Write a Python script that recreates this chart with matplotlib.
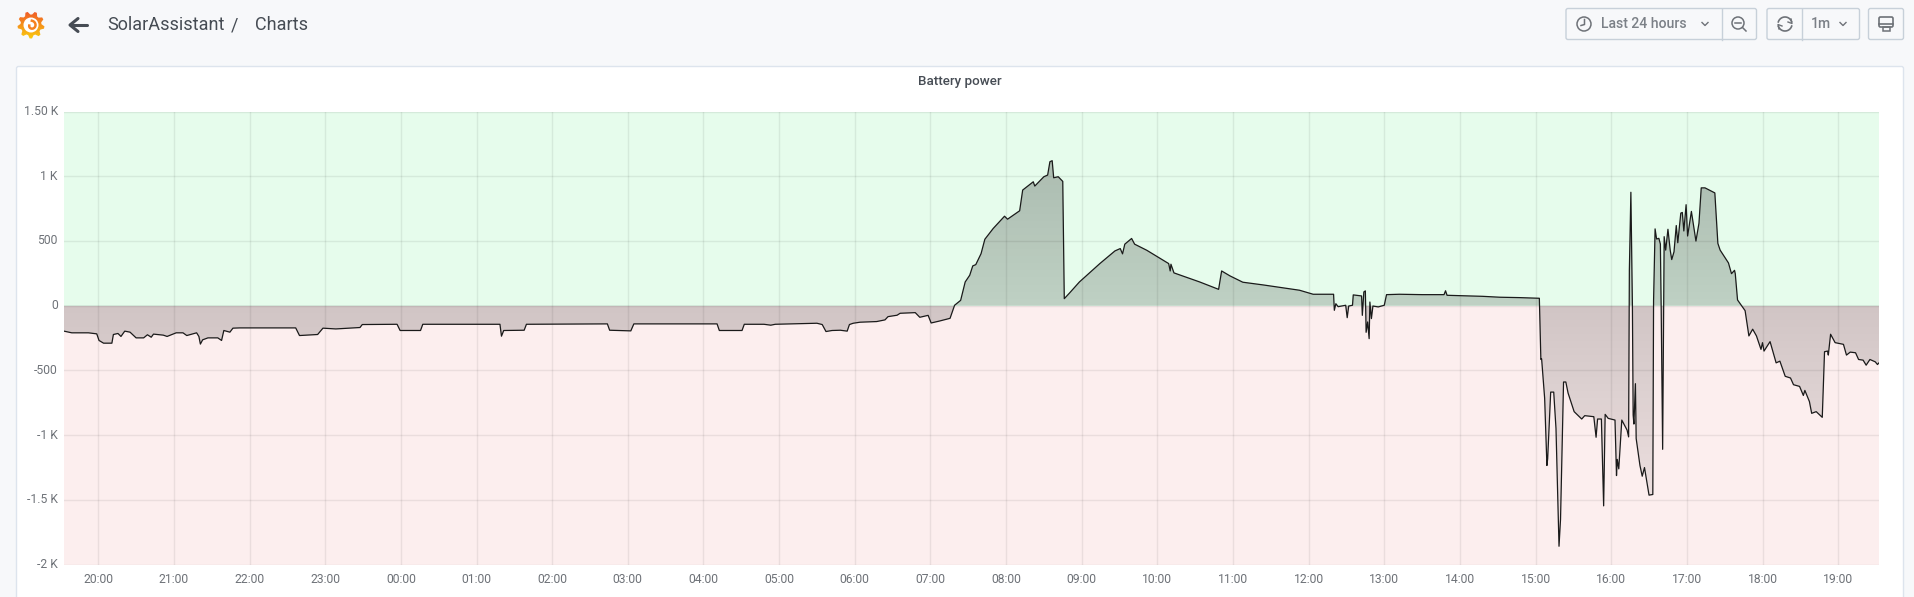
"""Battery power panel from a Grafana dashboard, redrawn with matplotlib."""

import numpy as np
import matplotlib
matplotlib.use("Agg")
import matplotlib.pyplot as plt
from matplotlib.patches import Circle, FancyBboxPatch, Polygon, Rectangle
from matplotlib.transforms import ScaledTranslation

plt.rcParams["font.family"] = ["Roboto", "DejaVu Sans"]

W, H = 1914, 597

# hours after 20:00
hours = [
    -0.453, -0.35, -0.13, -0.02, 0.01, 0.07, 0.18, 0.2, 0.26, 0.30, 0.35, 0.42, 0.5, 0.6, 0.65, 0.70,
    0.73, 0.86, 0.91, 1.03, 1.12, 1.17, 1.30, 1.33, 1.35, 1.38, 1.45, 1.58, 1.63, 1.66, 1.74, 1.78,
    1.87, 2.61, 2.66, 2.9, 2.97, 3.14, 3.46, 3.49, 3.95, 3.99, 4.26, 4.29, 5.04, 5.31, 5.33, 5.36,
    5.63, 5.66, 6.73, 6.76, 7.04, 7.08, 8.18, 8.21, 8.51, 8.54, 8.80, 8.89, 8.95, 9.5, 9.57, 9.62,
    9.70, 9.81, 9.90, 9.93, 9.98, 10.07, 10.29, 10.40, 10.44, 10.56, 10.6, 10.80,
    10.86, 10.97, 11.01, 11.12, 11.26, 11.32, 11.40, 11.46, 11.52, 11.56, 11.60, 11.67, 11.72, 11.83,
    11.98, 12.02, 12.18, 12.22, 12.36, 12.38, 12.50, 12.55, 12.58, 12.61, 12.63, 12.69, 12.75, 12.77,
    12.84, 12.97, 13.24, 13.44, 13.51, 13.54, 13.57, 13.66, 13.70, 13.86, 14.15, 14.17, 14.18, 14.22,
    14.56, 14.81, 14.85, 14.96, 15.13, 15.40, 15.88, 16.06, 16.33, 16.34, 16.36, 16.39, 16.49, 16.51,
    16.53, 16.58, 16.59, 16.70, 16.71, 16.73, 16.75, 16.76, 16.78, 16.80, 16.81, 16.83, 16.85, 16.92,
    17.0, 17.03, 17.2, 17.5, 17.79, 17.81, 17.83, 18.3, 18.53, 18.79,
    19.05, 19.07, 19.08, 19.12, 19.15, 19.16, 19.20, 19.24, 19.27, 19.31, 19.33, 19.37, 19.40, 19.43,
    19.51, 19.61, 19.65, 19.77, 19.80, 19.82, 19.87, 19.90, 19.92, 19.96, 20.05, 20.07, 20.08, 20.10,
    20.14, 20.21, 20.23, 20.24, 20.26, 20.28, 20.29, 20.30, 20.32, 20.33, 20.38, 20.41, 20.44, 20.50,
    20.55, 20.56, 20.58, 20.60, 20.63, 20.65, 20.66, 20.68, 20.70, 20.72, 20.75, 20.78, 20.80, 20.83,
    20.86, 20.88, 20.92, 20.94, 20.96, 20.99, 21.01, 21.06, 21.12, 21.16, 21.19, 21.24, 21.37, 21.41,
    21.44, 21.55, 21.59, 21.63, 21.64, 21.67, 21.77, 21.82, 21.87, 21.92, 21.98, 22.0, 22.02, 22.10,
    22.18, 22.23, 22.30, 22.37, 22.41, 22.49, 22.54, 22.56, 22.62, 22.65, 22.71, 22.79, 22.82, 22.86,
    22.87, 22.90, 22.96, 23.07, 23.11, 23.16, 23.23, 23.27, 23.33, 23.37, 23.42, 23.49, 23.52, 23.54,
]
power = [
    -197, -210, -210, -218, -269, -290, -290, -223, -215, -238, -197, -205, -249, -249, -225, -244,
    -220, -228, -238, -210, -210, -231, -210, -238, -297, -264, -249, -249, -269, -192, -205, -174,
    -172, -172, -231, -223, -174, -180, -169, -146, -144, -192, -192, -144, -144, -144, -236, -192,
    -190, -144, -141, -190, -195, -141, -141, -192, -192, -144, -144, -151, -144, -136, -146, -200,
    -192, -190, -197, -146, -136, -128, -123, -110, -85, -74, -59, -54,
    -90, -75, -134, -119, -98, 3, 41, 183, 235, 307, 317, 402, 513, 596,
    691, 668, 733, 893, 957, 924, 996, 1009, 1112, 1120, 988, 996, 960, 54,
    98, 183, 325, 423, 441, 400, 475, 519, 475, 428, 325, 268, 320, 253,
    183, 126, 268, 230, 181, 160, 119, 88, 88, -36, 15, -8, 3, -93,
    -3, 3, 83, 75, -75, 106, 114, -206, -126, -255, 28, -100, -3, -10,
    3, 85, 88, 85, 85, 115, 80, 72, 65, 62,
    57, -416, -411, -715, -1235, -1183, -668, -668, -949, -1859, -1651, -590, -590, -676,
    -819, -876, -850, -858, -1017, -876, -876, -1547, -840, -871, -884, -1313, -1188, -1261,
    -884, -962, -1014, 273, 876, 13, -845, -915, -603, -1027, -1235, -1318, -1251, -1464,
    -1459, 39, 593, 515, 520, 476, 13, -1110, 533, 429, 590, 429, 356, 416,
    619, 486, 715, 720, 577, 780, 538, 728, 499, 637, 910, 910, 871, 481,
    429, 330, 247, 273, 247, 44, -39, -234, -182, -234, -338, -286, -351, -278,
    -442, -429, -546, -559, -611, -624, -694, -655, -741, -832, -819, -863, -356, -351,
    -382, -221, -286, -299, -382, -359, -364, -416, -421, -460, -416, -434, -455, -442,
]

hour_labels = ["20:00", "21:00", "22:00", "23:00", "00:00", "01:00", "02:00", "03:00",
               "04:00", "05:00", "06:00", "07:00", "08:00", "09:00", "10:00", "11:00",
               "12:00", "13:00", "14:00", "15:00", "16:00", "17:00", "18:00", "19:00"]
y_ticks = [1500, 1000, 500, 0, -500, -1000, -1500, -2000]
y_labels = ["1.50 K", "1 K", "500", "0", "-500", "-1 K", "-1.5 K", "-2 K"]

TEXT = "#6e7278"
INK = "#464c54"
EDGE = "#c7d0d9"

fig = plt.figure(figsize=(W / 100, H / 100), dpi=100, facecolor="#f7f8fa")

# ── page chrome, drawn in pixel coordinates ───────────────────────────────────
bg = fig.add_axes([0, 0, 1, 1], zorder=0)
bg.set_axis_off()


def box(x0, x1, y0=8.5, y1=39.5):
    bg.add_patch(FancyBboxPatch((x0, y0), x1 - x0, y1 - y0, boxstyle="round,pad=0,rounding_size=2",
                                fc="none", ec=EDGE, lw=1))


def chevron(x, y):
    bg.plot([x - 3, x, x + 3], [y - 1.5, y + 1.5, y - 1.5], color=TEXT, lw=1)


bg.add_patch(FancyBboxPatch((16.5, 66.5), 1887, 600, boxstyle="round,pad=0,rounding_size=2",
                            fc="white", ec="#dde4ed", lw=1))

# logo
ang = np.linspace(0, 2 * np.pi, 37)[:-1] + 0.1
rad = np.where(np.arange(36) % 4 < 2, 13.5, 10.5)
gear = Polygon(np.c_[31 + rad * np.cos(ang), 25 + rad * np.sin(ang)], closed=True, fc="none", ec="none")
bg.add_patch(gear)
ramp = np.linspace(0, 1, 64)[:, None, None]
logo = (1 - ramp) * np.array([0.94, 0.35, 0.16]) + ramp * np.array([0.98, 0.80, 0.05])
img = bg.imshow(logo, extent=[15, 47, 39, 11], aspect="auto", zorder=3)
img.set_clip_path(gear)
bg.add_patch(Circle((31, 25), 7.5, fc="white", ec="none", zorder=4))
spiral = np.linspace(0, 4.6, 40)
bg.plot(31.5 + (4.8 - 0.55 * spiral) * np.cos(spiral - 1.5), 25.5 + (4.8 - 0.55 * spiral) * np.sin(spiral - 1.5),
        color="#f58220", lw=1.8, zorder=5)

# back arrow
bg.plot([87, 71], [25, 25], color=INK, lw=2.2, solid_capstyle="round")
bg.plot([78, 70, 78], [18.5, 25, 31.5], color=INK, lw=2.2, solid_capstyle="round", solid_joinstyle="round")

bg.text(107.5, 25, "SolarAssistant", fontsize=13, color=INK, va="center", ha="left")
bg.text(235, 25, "/", fontsize=13, color=INK, va="center", ha="center")
bg.text(255, 25, "Charts", fontsize=13, color=INK, va="center", ha="left")

# toolbar
box(1566, 1756.5)
bg.plot([1721.5, 1721.5], [8.5, 39.5], color=EDGE, lw=1)
box(1767, 1859.5)
bg.plot([1802, 1802], [8.5, 39.5], color=EDGE, lw=1)
box(1868.5, 1903.5)

bg.add_patch(Circle((1584, 24), 7, fc="none", ec=TEXT, lw=1.1))
bg.plot([1584.5, 1584.5, 1581], [19.5, 24.5, 25.5], color=TEXT, lw=1.1)
bg.text(1601, 24, "Last 24 hours", fontsize=10.1, fontweight="medium", color="#7b8087", va="center", ha="left")
chevron(1705, 24)
bg.add_patch(Circle((1738, 23), 6, fc="none", ec=TEXT, lw=1.1))
bg.plot([1735, 1741], [23, 23], color=TEXT, lw=1.1)
bg.plot([1742.5, 1746], [27.5, 31], color=TEXT, lw=1.1)
theta = np.linspace(0.3, 2.8, 30)
bg.plot(1785 + 7 * np.cos(theta), 24 + 7 * np.sin(theta), color=TEXT, lw=1.2)
bg.plot(1785 + 7 * np.cos(theta + np.pi), 24 + 7 * np.sin(theta + np.pi), color=TEXT, lw=1.2)
bg.plot([1779, 1778, 1782], [29, 24.5, 26], color=TEXT, lw=1)
bg.plot([1791, 1792, 1788], [19, 23.5, 22], color=TEXT, lw=1)
bg.text(1811, 24, "1m", fontsize=10.1, fontweight="medium", color="#7b8087", va="center", ha="left")
chevron(1843, 24)
bg.add_patch(FancyBboxPatch((1879, 17), 14, 10, boxstyle="round,pad=0,rounding_size=1.5", fc="none", ec=TEXT, lw=1.2))
bg.plot([1879, 1893], [23.5, 23.5], color=TEXT, lw=1.2)
bg.add_patch(Rectangle((1882.5, 27), 7, 3.5, fc="none", ec=TEXT, lw=1.1))

bg.text(960, 81.5, "Battery power", fontsize=9.6, fontweight="medium", color="#464c54", va="center", ha="center")
bg.set_xlim(0, W)
bg.set_ylim(H, 0)

# ── chart ─────────────────────────────────────────────────────────────────────
ax = fig.add_axes([64 / W, 1 - 564.5 / H, 1815 / W, 453 / H], zorder=1)
ax.set_facecolor("none")

ax.axhspan(0, 1500, color="#e6fcec", lw=0, zorder=0)
ax.axhspan(-2000, 0, color="#fceeee", lw=0, zorder=0)

xlim = (-0.453, 23.54)
ylim = (-2000, 1500)

area = ax.fill_between(hours, power, 0, color="none", lw=0)
shade = np.zeros((256, 2, 4))
shade[:, :, 3] = np.linspace(0.28, 0.03, 256)[:, None]
grad = ax.imshow(shade, extent=[xlim[0], xlim[1], -2000, 1500], origin="upper", aspect="auto", zorder=1)
grad.set_clip_path(area.get_paths()[0], transform=ax.transData)

ax.plot(hours, power, color="#1a1a1a", lw=0.9, zorder=3, solid_joinstyle="round")

ax.set_xlim(*xlim)
ax.set_ylim(*ylim)
ax.set_xticks(np.arange(len(hour_labels)))
ax.set_xticklabels(hour_labels)
ax.set_yticks(y_ticks)
ax.set_yticklabels(y_labels)
ax.grid(True, color="black", alpha=0.07, lw=1)
ax.set_axisbelow(False)
ax.tick_params(length=0, labelsize=8.7, labelcolor=TEXT)
ax.tick_params(axis="x", pad=6)
ax.tick_params(axis="y", pad=4.5)
for s in ax.spines.values():
    s.set_visible(False)
nudge = ScaledTranslation(0, 1.5 / 100, fig.dpi_scale_trans)
for label in ax.get_yticklabels():
    label.set_transform(label.get_transform() + nudge)

fig.savefig("out.png", dpi=100)
